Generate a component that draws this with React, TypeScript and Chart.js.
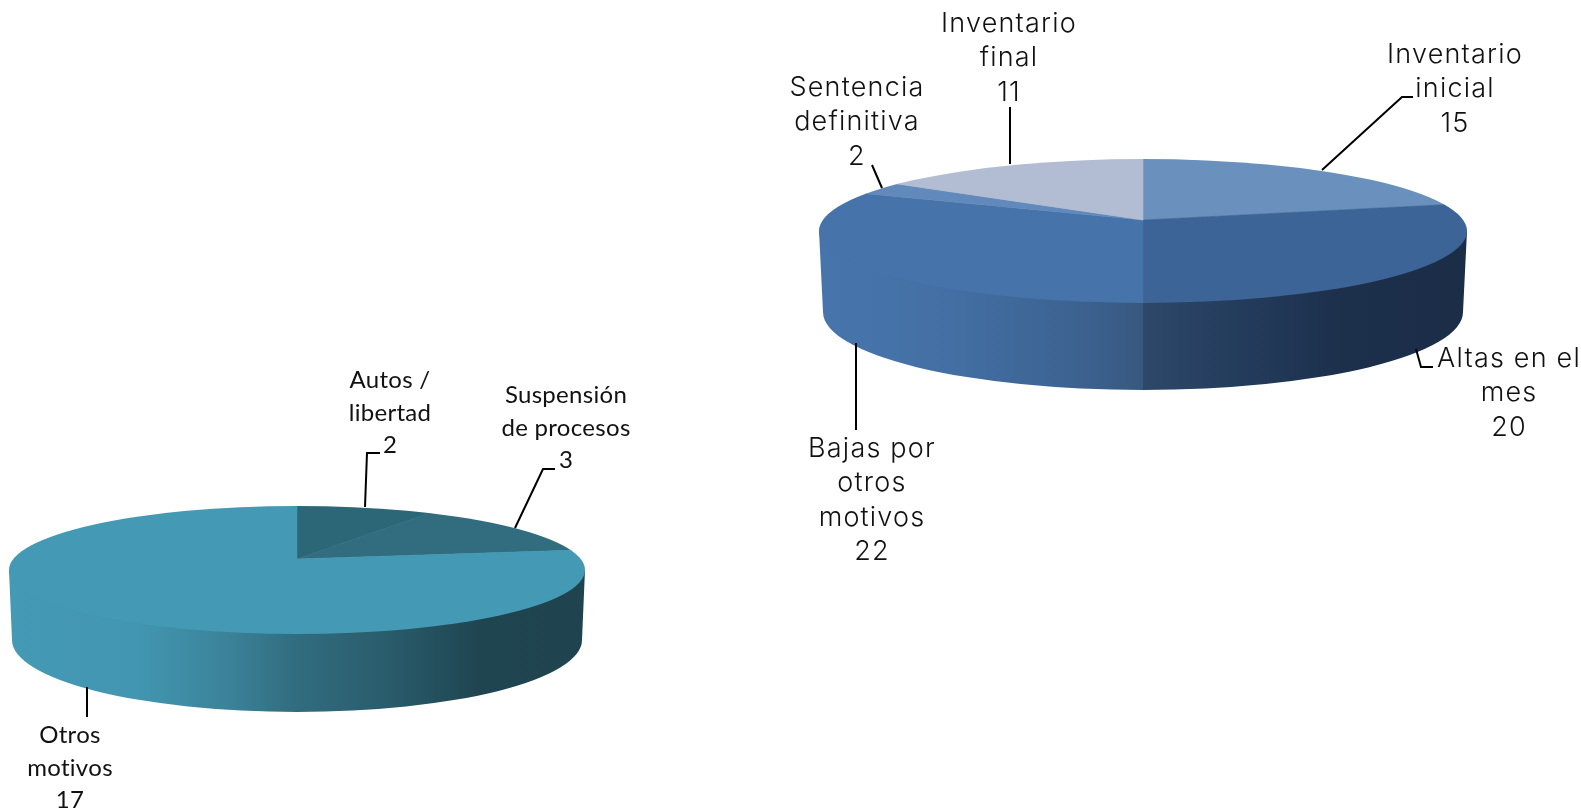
import React, { useEffect, useRef } from "react";
import { Chart, registerables } from "chart.js";

Chart.register(...registerables);

// ---- data ----
const rightCategories = ["Inventario inicial", "Altas en el mes", "Bajas por otros motivos", "Sentencia definitiva", "Inventario final"];
const rightValues = [15, 20, 22, 2, 11];
const rightColors = ["#6a91bd", "#3d6496", "#4673a9", "#6289bb", "#b2bdd3"];

const leftCategories = ["Autos / libertad", "Suspensión de procesos", "Otros motivos"];
const leftValues = [2, 3, 17];
const leftColors = ["#2c6778", "#316c7f", "#4499b5"];

// ---- how category names wrap ----
const rightWrapped = [["Inventario", "inicial"], ["Altas en el", "mes"], ["Bajas por", "otros", "motivos"], ["Sentencia", "definitiva"], ["Inventario", "final"]];
const leftWrapped = [["Autos /", "libertad"], ["Suspensión", "de procesos"], ["Otros", "motivos"]];

// ---- layout and style ----
type Pt = [number, number];
interface PieLook {
  apex: Pt; top: { cy: number; rx: number; ry: number }; bottom: { cy: number; rx: number; ry: number };
  wallStops: [number, string][];
  font: string; spacing: string; lineGap: number;
  labelAt: Pt[]; leaders: Pt[][];
}

const rightLook: PieLook = {
  apex: [1143, 220],
  top: { cy: 231, rx: 324, ry: 72 },
  bottom: { cy: 312, rx: 320, ry: 78 },
  wallStops: [[0, "#4775ab"], [0.2, "#436fa4"], [0.4, "#3c6290"], [0.4995, "#375980"], [0.5, "#2d4869"], [0.65, "#243c5c"], [0.82, "#1c2f4b"], [1, "#1b2d47"]],
  font: "300 27px Inter",
  spacing: "1.2px",
  lineGap: 34.3,
  labelAt: [[1455, 63], [1509, 367], [872, 457], [857, 96], [1009, 32]],
  leaders: [
    [[1322, 170], [1402, 97], [1413, 97]],
    [[1416, 349], [1421, 367], [1433, 367]],
    [[856, 343], [856, 430]],
    [[872, 165], [882, 188]],
    [[1010, 107], [1010, 164]],
  ],
};

const leftLook: PieLook = {
  apex: [297, 559],
  top: { cy: 570, rx: 288, ry: 64 },
  bottom: { cy: 640, rx: 285, ry: 72 },
  wallStops: [[0, "#4499b5"], [0.22, "#4296b1"], [0.38, "#3b8299"], [0.5, "#316c7f"], [0.65, "#2a5d6d"], [0.82, "#1f4551"], [1, "#1f444f"]],
  font: "24px Lato",
  spacing: "0.3px",
  lineGap: 32.5,
  labelAt: [[390, 388], [566, 403], [70, 743]],
  leaders: [
    [[365, 507], [367, 453], [380, 453]],
    [[515, 528], [543, 469], [555, 469]],
    [[87, 687], [87, 717]],
  ],
};

const WIDTH = 1581;
const HEIGHT = 811;

function solidPiePlugin(look: PieLook, wrapped: string[][], values: number[]) {
  const k = look.top.ry / look.top.rx;
  const [ax, ay] = look.apex;
  return {
    id: "solidPie",
    beforeDatasetsDraw(chart: any) {
      const ctx: CanvasRenderingContext2D = chart.ctx;
      // side wall
      const { top, bottom } = look;
      const g = ctx.createLinearGradient(ax - bottom.rx, 0, ax + bottom.rx, 0);
      look.wallStops.forEach(([o, c]) => g.addColorStop(o, c));
      ctx.save();
      ctx.beginPath();
      ctx.moveTo(ax - top.rx, top.cy);
      ctx.lineTo(ax - bottom.rx, bottom.cy);
      ctx.ellipse(ax, bottom.cy, bottom.rx, bottom.ry, 0, Math.PI, 0, true);
      ctx.lineTo(ax + top.rx, top.cy);
      ctx.closePath();
      ctx.fillStyle = g;
      ctx.fill();
      ctx.restore();
      // flattened top face: slices fan out of the apex, cut by the rim
      ctx.save();
      ctx.beginPath();
      ctx.ellipse(ax, top.cy, top.rx, top.ry, 0, 0, Math.PI * 2);
      ctx.clip();
      ctx.translate(ax, ay);
      ctx.scale(1, k);
      ctx.translate(-ax, -ay);
    },
    afterDatasetsDraw(chart: any) {
      const ctx: CanvasRenderingContext2D = chart.ctx;
      ctx.restore();
      ctx.save();
      ctx.strokeStyle = "#000000";
      ctx.lineWidth = 2;
      look.leaders.forEach((pts) => {
        ctx.beginPath();
        pts.forEach(([x, y], i) => (i ? ctx.lineTo(x, y) : ctx.moveTo(x, y)));
        ctx.stroke();
      });
      ctx.fillStyle = "#111111";
      ctx.font = look.font;
      ctx.textAlign = "center";
      ctx.textBaseline = "alphabetic";
      (ctx as any).letterSpacing = look.spacing;
      wrapped.forEach((lines, i) => {
        const [x, y] = look.labelAt[i];
        [...lines, String(values[i])].forEach((t, j) => ctx.fillText(t, x, y + j * look.lineGap));
      });
      ctx.restore();
    },
  };
}

function makePie(canvas: HTMLCanvasElement, look: PieLook, categories: string[], values: number[], colors: string[], wrapped: string[][]) {
  const [ax, ay] = look.apex;
  return new Chart(canvas, {
    type: "pie",
    data: {
      labels: categories,
      datasets: [{ data: values, backgroundColor: colors, borderColor: colors, borderWidth: 1, radius: 420, clip: false } as any],
    },
    options: {
      responsive: false,
      animation: false,
      events: [],
      layout: {
        padding: {
          left: ax > WIDTH / 2 ? 2 * ax - WIDTH : 0,
          right: ax > WIDTH / 2 ? 0 : WIDTH - 2 * ax,
          top: ay > HEIGHT / 2 ? 2 * ay - HEIGHT : 0,
          bottom: ay > HEIGHT / 2 ? 0 : HEIGHT - 2 * ay,
        },
      },
      plugins: { legend: { display: false }, tooltip: { enabled: false } },
    } as any,
    plugins: [solidPiePlugin(look, wrapped, values)],
  });
}

const layer: React.CSSProperties = { position: "absolute", left: 0, top: 0 };

export default function App() {
  const leftRef = useRef<HTMLCanvasElement>(null);
  const rightRef = useRef<HTMLCanvasElement>(null);
  useEffect(() => {
    const a = makePie(leftRef.current!, leftLook, leftCategories, leftValues, leftColors, leftWrapped);
    const b = makePie(rightRef.current!, rightLook, rightCategories, rightValues, rightColors, rightWrapped);
    return () => {
      a.destroy();
      b.destroy();
    };
  }, []);
  return (
    <div style={{ position: "absolute", left: 0, top: 0, width: WIDTH, height: HEIGHT, overflow: "hidden", background: "#fff" }}>
      <canvas ref={leftRef} width={WIDTH} height={HEIGHT} style={layer} />
      <canvas ref={rightRef} width={WIDTH} height={HEIGHT} style={layer} />
    </div>
  );
}
